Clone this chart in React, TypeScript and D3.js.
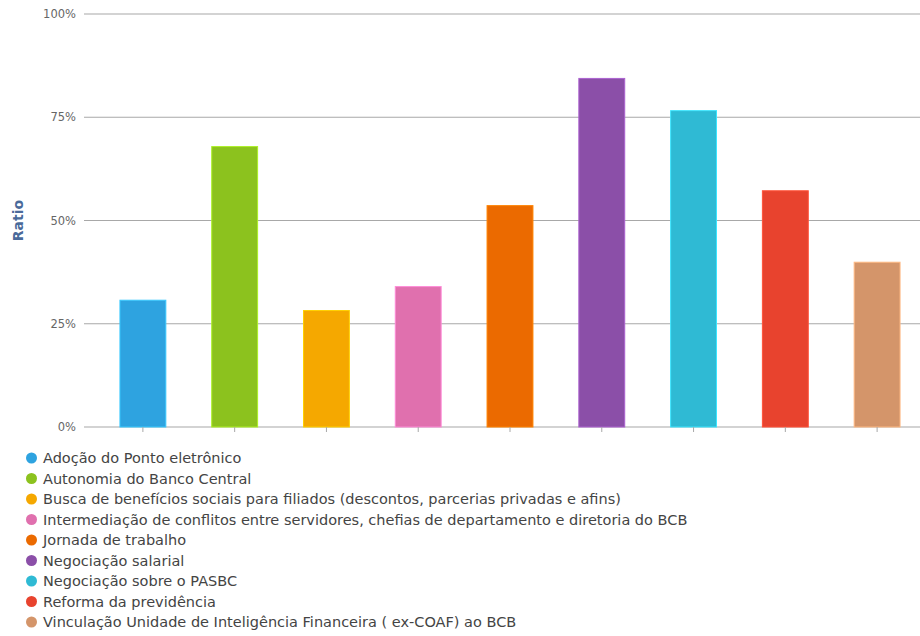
import React from "react";
import * as d3 from "d3";

const categories = [
  "Adoção do Ponto eletrônico",
  "Autonomia do Banco Central",
  "Busca de benefícios sociais para filiados (descontos, parcerias privadas e afins)",
  "Intermediação de conflitos entre servidores, chefias de departamento e diretoria do BCB",
  "Jornada de trabalho",
  "Negociação salarial",
  "Negociação sobre o PASBC",
  "Reforma da previdência",
  "Vinculação Unidade de Inteligência Financeira ( ex-COAF) ao BCB",
];
const ratios = [0.307, 0.679, 0.282, 0.34, 0.536, 0.844, 0.766, 0.572, 0.399];
const colors = [
  "#2ea3e0", "#8cc21e", "#f5a800", "#e070ae", "#eb6a00",
  "#8b4fa8", "#2fbad4", "#e8432e", "#d4956a",
];
const yTicks = [0, 0.25, 0.5, 0.75, 1];

const W = 920;
const H = 636;
const FONT = "'DejaVu Sans', sans-serif";

export default function App() {
  const x = d3.scaleBand<number>().domain(d3.range(categories.length)).range([97, 923]).paddingInner(0.5).paddingOuter(0.25);
  const y = d3.scaleLinear().domain([0, 1]).range([427, 14]);
  const fmt = d3.format(".0%");

  return (
    <svg width={W} height={H} style={{ position: "absolute", left: 0, top: 0, background: "#fff" }}>
      {yTicks.map((t) => (
        <g key={t}>
          <line x1={84} x2={W} y1={y(t)} y2={y(t)} stroke="#a8a8a8" strokeWidth={1.2} />
          <text x={76} y={y(t)} dy="0.35em" textAnchor="end" fontFamily={FONT} fontSize={11.5} fill="#666">
            {fmt(t)}
          </text>
        </g>
      ))}
      <text
        transform={`translate(18,${y(0.5)}) rotate(-90)`}
        dy="0.35em"
        textAnchor="middle"
        fontFamily={FONT}
        fontSize={14}
        fontWeight="bold"
        fill="#4a6a9a"
      >
        Ratio
      </text>
      {ratios.map((v, i) => (
        <rect
          key={i}
          x={x(i)}
          y={y(v)}
          width={x.bandwidth()}
          height={y(0) - y(v)}
          fill={colors[i]}
          stroke={d3.color(colors[i])!.brighter(0.6).formatHex()}
          strokeWidth={1}
        />
      ))}
      {categories.map((_, i) => (
        <line
          key={i}
          x1={x(i)! + x.bandwidth() / 2}
          x2={x(i)! + x.bandwidth() / 2}
          y1={y(0)}
          y2={y(0) + 5}
          stroke="#a8a8a8"
        />
      ))}
      {categories.map((c, i) => (
        <g key={c} transform={`translate(0,${458 + i * 20.5})`}>
          <circle cx={31.5} cy={0} r={5.5} fill={colors[i]} />
          <text x={43} y={0} dy="0.35em" fontFamily={FONT} fontSize={14.5} fill="#444">
            {c}
          </text>
        </g>
      ))}
    </svg>
  );
}
